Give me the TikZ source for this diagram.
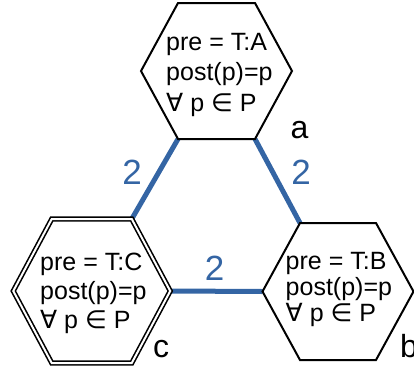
\documentclass[tikz,border=0pt]{standalone}
\usepackage{fontspec}
\setmainfont{Liberation Sans}
\newfontfamily\symfont{DejaVu Sans}
\newcommand\fa{{\symfont ∀}}
\newcommand\inn{{\symfont ∈}}
\definecolor{edgeblue}{HTML}{3465A4}
\newcommand\hexpts[6]{%
  \coordinate (#1-tl) at (#2-#4,#3-#6);
  \coordinate (#1-tr) at (#2+#4,#3-#6);
  \coordinate (#1-r)  at (#2+#5,#3);
  \coordinate (#1-br) at (#2+#4,#3+#6);
  \coordinate (#1-bl) at (#2-#4,#3+#6);
  \coordinate (#1-l)  at (#2-#5,#3);
}
\tikzset{
  hexline/.style={draw=black, line width=2pt, line join=miter},
  hexdouble/.style={draw=black, double=white, double distance=2pt, line width=1.6pt, line join=miter},
  link/.style={draw=edgeblue, line width=5pt},
  weight/.style={text=edgeblue, font=\fontsize{35}{35}\selectfont, inner sep=0pt},
  hexname/.style={font=\fontsize{32}{32}\selectfont, inner sep=0pt, anchor=base west},
  cond/.style={align=left, inner sep=0pt, anchor=north west},
}
\begin{document}
\begin{tikzpicture}[x=1pt,y=-1pt]
\useasboundingbox (0,0) rectangle (414,372);
\hexpts{A}{216.5}{71}{38.5}{75.5}{68}
\hexpts{B}{338}{291.5}{38}{75.5}{68.5}
\hexpts{C}{91.75}{291}{40}{78.5}{72}
% connectors
\draw[link] (A-bl) -- (C-tr);
\draw[link] (A-br) -- (B-tl);
\draw[link] (C-r) -- (B-l);
% hexagons
\draw[hexline] (A-tl) -- (A-tr) -- (A-r) -- (A-br) -- (A-bl) -- (A-l) -- cycle;
\draw[hexline] (B-tl) -- (B-tr) -- (B-r) -- (B-br) -- (B-bl) -- (B-l) -- cycle;
\draw[hexdouble] (C-tl) -- (C-tr) -- (C-r) -- (C-br) -- (C-bl) -- (C-l) -- cycle;
% texts
\node[cond, font=\fontsize{25}{30.5}\selectfont] (ta) at (166,33) {pre = T:A\\post(p)=p\\\fa{} p \inn{} P};
\node[cond, font=\fontsize{25}{26}\selectfont] (tb) at (285.5,252.5) {pre = T:B\\post(p)=p\\\fa{} p \inn{} P};
\node[cond, font=\fontsize{25}{29}\selectfont] (tc) at (40,252.5) {pre = T:C\\post(p)=p\\\fa{} p \inn{} P};
% names
\node[hexname] (na) at (290.5,138) {a};
\node[hexname] (nb) at (400,357) {b};
\node[hexname] (nc) at (153,357) {c};
% weights
\node[weight] (w1) at (132,172.5) {2};
\node[weight] (w2) at (301,172.5) {2};
\node[weight] (w3) at (214.5,268.5) {2};
\end{tikzpicture}
\end{document}
